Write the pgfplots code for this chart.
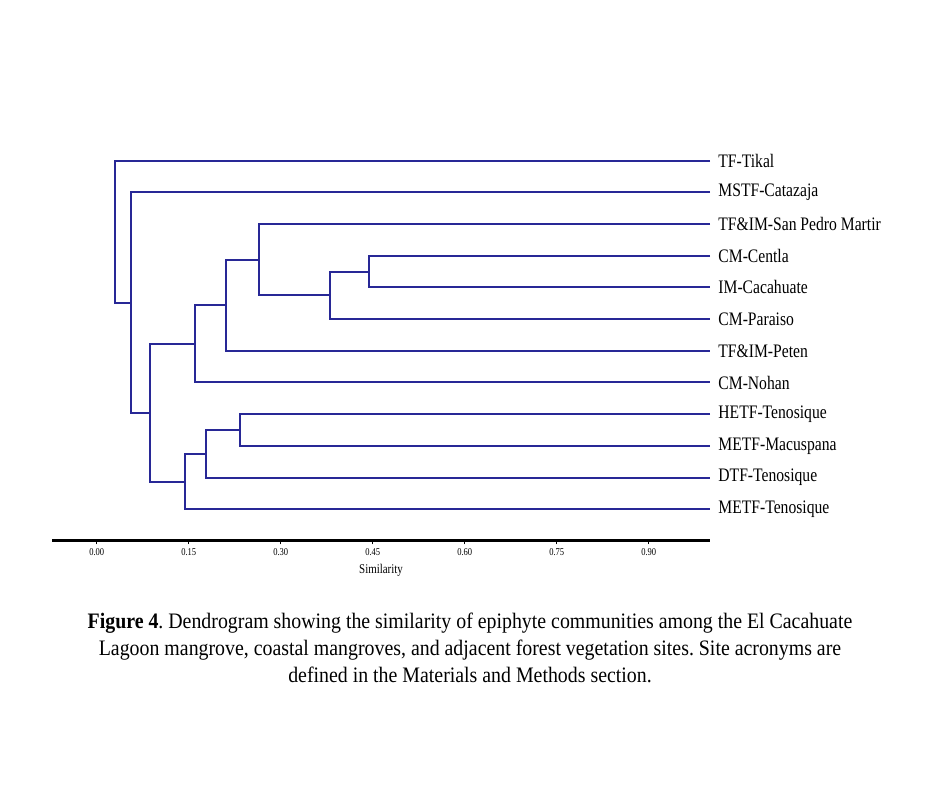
\documentclass[border=0pt]{standalone}
\usepackage{fontspec}
\setmainfont{Liberation Serif}[FakeStretch=0.82]
\newfontfamily\capfont{Liberation Serif}[FakeStretch=0.9]
\usepackage{pgfplots}
\pgfplotsset{compat=1.18}
\definecolor{dendro}{RGB}{40,40,150}
\frenchspacing
\begin{document}
\begin{tikzpicture}[x=1pt,y=1pt]
\path[use as bounding box] (0,0) rectangle (705,591);
\begin{axis}[
  at={(39pt,185.25pt)}, anchor=south west,
  x=460pt, y=23.775pt,
  xmin=-0.073, xmax=1.0, ymin=-1, ymax=11.5,
  enlargelimits=false, clip=false,
  axis x line*=bottom, axis y line=none,
  ytick=\empty,
  axis line style={line width=2.25pt, black},
  xtick pos=bottom, tick align=outside,
  major tick length=2.6pt,
  tick style={black, line width=0.5pt},
  xtick={0,0.15,0.3,0.45,0.6,0.75,0.9},
  /pgf/number format/assume math mode=true,
  xticklabel style={font=\fontsize{7.8}{9}\selectfont, yshift=0.6pt,
    /pgf/number format/fixed, /pgf/number format/fixed zerofill,
    /pgf/number format/precision=2},
  xlabel={Similarity},
  xlabel style={font=\fontsize{10}{12}\selectfont},
  link/.style={dendro, solid, line width=1.5pt, mark=none, line join=miter},
]
% leaves at x = 1, leaf i sits at y = 11 - i
% each merge: (child1 end, y1) -- (height, y1) -- (height, y2) -- (child2 end, y2)
\addplot[link] coordinates {(1,8) (0.444,8) (0.444,7) (1,7)};            % Centla + Cacahuate
\addplot[link] coordinates {(0.444,7.5) (0.380,7.5) (0.380,6) (1,6)};    % + Paraiso
\addplot[link] coordinates {(1,9) (0.265,9) (0.265,6.75) (0.380,6.75)};  % + San Pedro Martir
\addplot[link] coordinates {(0.265,7.875) (0.210,7.875) (0.210,5) (1,5)};% + Peten
\addplot[link] coordinates {(0.210,6.4375) (0.160,6.4375) (0.160,4) (1,4)}; % + Nohan
\addplot[link] coordinates {(1,3) (0.233,3) (0.233,2) (1,2)};            % HETF + METF-Macuspana
\addplot[link] coordinates {(0.233,2.5) (0.178,2.5) (0.178,1) (1,1)};    % + DTF
\addplot[link] coordinates {(0.178,1.75) (0.144,1.75) (0.144,0) (1,0)};  % + METF-Tenosique
\addplot[link] coordinates {(0.160,5.21875) (0.087,5.21875) (0.087,0.875) (0.144,0.875)};
\addplot[link] coordinates {(1,10) (0.055,10) (0.055,3.047) (0.087,3.047)}; % + Catazaja
\addplot[link] coordinates {(1,11) (0.029,11) (0.029,6.523) (0.055,6.523)}; % + Tikal

\begin{scope}[every node/.style={anchor=west, xshift=2.7pt, font=\fontsize{14.3}{17}\selectfont}]
\node at (axis cs:1,11) {TF-Tikal};
\node at (axis cs:1,10) {MSTF-Catazaja};
\node at (axis cs:1,9)  {TF\&IM-San Pedro Martir};
\node at (axis cs:1,8)  {CM-Centla};
\node at (axis cs:1,7)  {IM-Cacahuate};
\node at (axis cs:1,6)  {CM-Paraiso};
\node at (axis cs:1,5)  {TF\&IM-Peten};
\node at (axis cs:1,4)  {CM-Nohan};
\node at (axis cs:1,3)  {HETF-Tenosique};
\node at (axis cs:1,2)  {METF-Macuspana};
\node at (axis cs:1,1)  {DTF-Tenosique};
\node at (axis cs:1,0)  {METF-Tenosique};
\end{scope}
\end{axis}
\node[align=center, font=\capfont\fontsize{16.55}{20.25}\selectfont] at (352.5,105)
  {\textbf{Figure 4}. Dendrogram showing the similarity of epiphyte communities among the El Cacahuate\\
   Lagoon mangrove, coastal mangroves, and adjacent forest vegetation sites. Site acronyms are\\
   defined in the Materials and Methods section.};
\end{tikzpicture}
\end{document}
